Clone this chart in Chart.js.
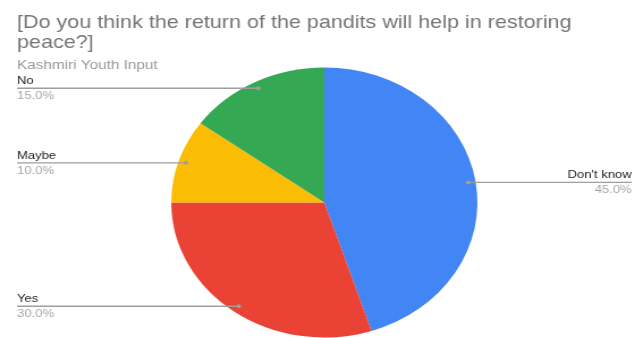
<!DOCTYPE html>
<html>
<head>
<meta charset="utf-8">
<script src="https://cdn.jsdelivr.net/npm/chart.js@4/dist/chart.umd.min.js"></script>
<style>
  html, body { margin: 0; padding: 0; background: #fff; overflow: hidden; }
  #wrap { width: 560px; height: 338px; transform: scaleX(1.134); transform-origin: 0 0; }
  canvas { display: block; }
</style>
</head>
<body>
<div id="wrap"><canvas id="pie" width="560" height="338" style="width:560px;height:338px"></canvas></div>
<script>
// answers and shares (percent)
const answers = ["Don't know", "Yes", "Maybe", "No"];
const shares = [45, 30, 10, 15];
const sliceColors = ["#4285F4", "#EA4335", "#FBBC04", "#34A853"];

const titleLines = ["[Do you think the return of the pandits will help in restoring", "peace?]"];
const subtitleText = "Kashmiri Youth Input";

const FONT = "Arial, 'Liberation Sans', sans-serif";

// title block drawn straight onto the canvas
const headerPlugin = {
    id: "header",
    afterDraw(chart) {
        const ctx = chart.ctx;
        ctx.save();
        ctx.textAlign = "left";
        ctx.textBaseline = "alphabetic";
        ctx.fillStyle = "#757575";
        ctx.font = "19px " + FONT;
        ctx.fillText(titleLines[0], 15, 27.5);
        ctx.fillText(titleLines[1], 15, 47.5);
        ctx.fillStyle = "#999999";
        ctx.font = "13.5px " + FONT;
        ctx.fillText(subtitleText, 15, 69);
        ctx.restore();
    },
};

// leader lines with name + percentage for each slice
const leaderPlugin = {
    id: "leaders",
    afterDatasetsDraw(chart) {
        const ctx = chart.ctx;
        const meta = chart.getDatasetMeta(0);
        const total = shares.reduce((a, b) => a + b, 0);
        ctx.save();
        meta.data.forEach((arc, i) => {
            const mid = (arc.startAngle + arc.endAngle) / 2;
            const r = arc.outerRadius * 0.95;
            const px = arc.x + Math.cos(mid) * r;
            const py = arc.y + Math.sin(mid) * r;
            const left = Math.cos(mid) < 0;
            const endX = left ? 15 : 557;

            ctx.strokeStyle = "#9e9e9e";
            ctx.lineWidth = 1.3;
            ctx.beginPath();
            ctx.moveTo(px, py);
            ctx.lineTo(endX, py);
            ctx.stroke();

            ctx.fillStyle = "#9e9e9e";
            ctx.beginPath();
            ctx.arc(px, py, 2, 0, Math.PI * 2);
            ctx.fill();

            ctx.textAlign = left ? "left" : "right";
            ctx.textBaseline = "alphabetic";
            ctx.font = "11.5px " + FONT;
            ctx.fillStyle = "#1f1f1f";
            ctx.fillText(answers[i], endX, py - 4);
            ctx.fillStyle = "#a6a6a6";
            ctx.fillText((shares[i] / total * 100).toFixed(1) + "%", endX, py + 11);
        });
        ctx.restore();
    },
};

new Chart(document.getElementById("pie"), {
    type: "pie",
    data: {
        labels: answers,
        datasets: [
            {
                data: shares,
                backgroundColor: sliceColors,
                borderWidth: 0,
                hoverOffset: 0,
                offset: 0,
            },
        ],
    },
    options: {
        responsive: false,
        animation: false,
        events: [],
        layout: { padding: { left: 151, right: 139, top: 67.5, bottom: 0.5 } },
        plugins: {
            legend: { display: false },
            tooltip: { enabled: false },
            title: { display: false },
        },
    },
    plugins: [headerPlugin, leaderPlugin],
});
</script>
</body>
</html>
